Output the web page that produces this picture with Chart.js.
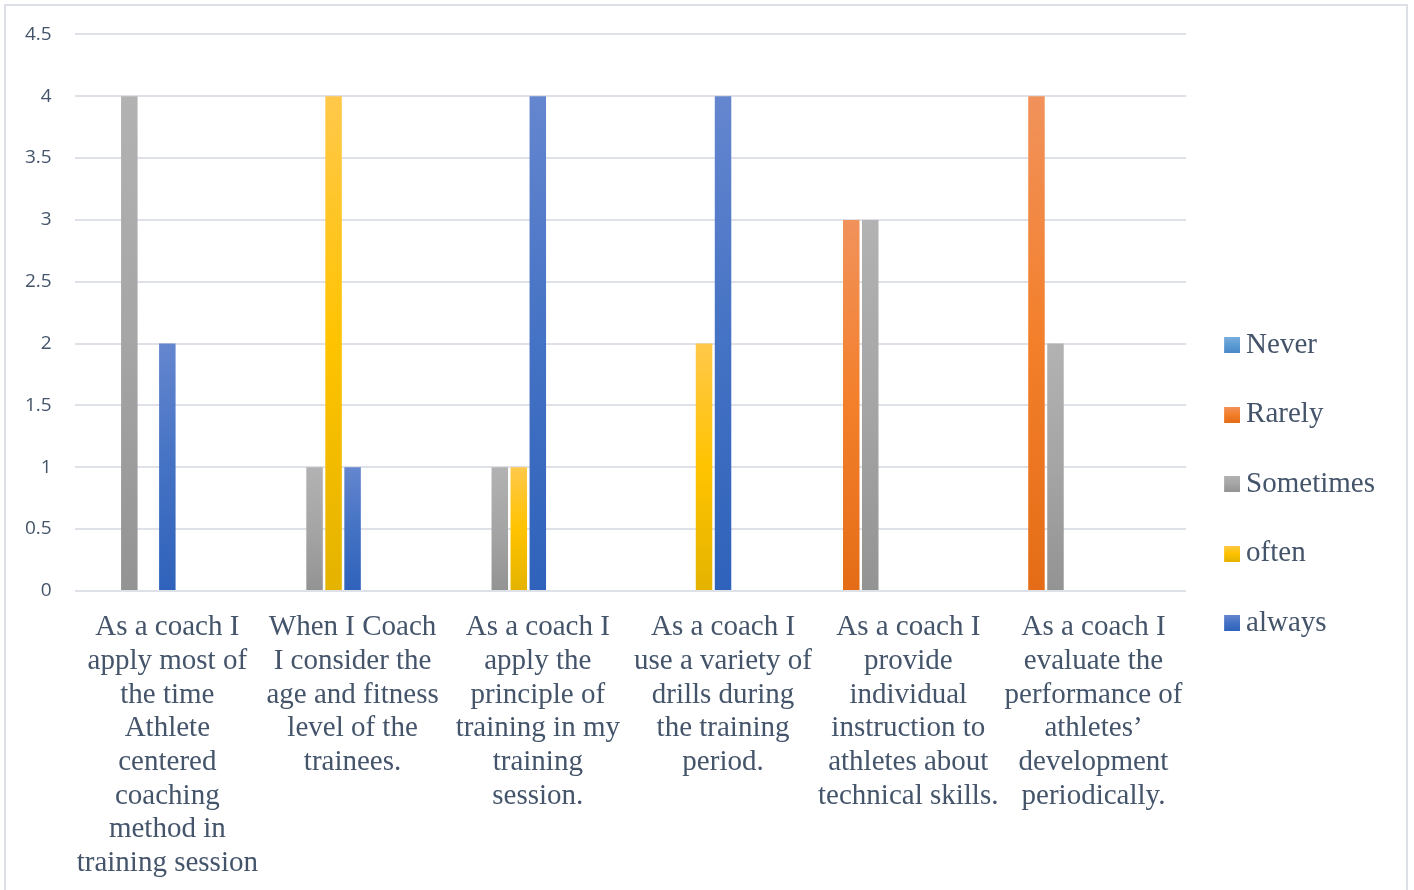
<!DOCTYPE html>
<html>
<head>
<meta charset="utf-8">
<script src="https://cdn.jsdelivr.net/npm/chart.js@4/dist/chart.umd.min.js"></script>
<style>
  html, body { margin: 0; padding: 0; background: #ffffff; }
  #frame { position: absolute; left: 4px; top: 4px; width: 1404px; height: 900px; border: 2px solid #DCDFE6; box-sizing: border-box; }
  #c { position: absolute; left: 0; top: 0; }
</style>
</head>
<body>
<div id="frame"></div>
<canvas id="c" width="1414" height="890"></canvas>
<script>
const categories = [
  ["As a coach I", "apply most of", "the time", "Athlete", "centered", "coaching", "method in", "training session"],
  ["When I Coach", "I consider the", "age and fitness", "level of the", "trainees."],
  ["As a coach I", "apply the", "principle of", "training in my", "training", "session."],
  ["As a coach I", "use a variety of", "drills during", "the training", "period."],
  ["As a coach I", "provide", "individual", "instruction to", "athletes about", "technical skills."],
  ["As a coach I", "evaluate the", "performance of", "athletes’", "development", "periodically."]
];
const seriesNames = ["Never", "Rarely", "Sometimes", "often", "always"];
const never     = [null, null, null, null, null, null];
const rarely    = [null, null, null, null, 3, 4];
const sometimes = [4, 1, 1, null, 3, 2];
const often     = [null, 4, 1, 2, null, null];
const always    = [2, 1, 4, 4, null, null];
const yTickValues = [0, 0.5, 1, 1.5, 2, 2.5, 3, 3.5, 4, 4.5];

const palette = [
  ["#7AAEDD", "#5B9BD5", "#4A89C6"],
  ["#F1925B", "#F37F2A", "#E46C17"],
  ["#B2B2B2", "#A5A5A5", "#939393"],
  ["#FFC84A", "#FFC300", "#E4B300"],
  ["#6586CF", "#4472C4", "#2F62BB"]
];

function gradFill(i) {
  return function (ctx) {
    const stops = palette[i];
    if (ctx.type !== 'data') return stops[1];
    const chart = ctx.chart;
    const y = chart.scales && chart.scales.y;
    const v = ctx.parsed ? ctx.parsed.y : null;
    if (!y || v == null || !chart.chartArea) return stops[1];
    const top = y.getPixelForValue(v);
    const bot = y.getPixelForValue(0);
    if (!isFinite(top) || !isFinite(bot) || top === bot) return stops[1];
    const g = chart.ctx.createLinearGradient(0, top, 0, bot);
    g.addColorStop(0, stops[0]);
    g.addColorStop(0.5, stops[1]);
    g.addColorStop(1, stops[2]);
    return g;
  };
}

// small legend swatch images (16x16 square inside a 22px-wide transparent image)
function swatch(i) {
  const cv = document.createElement('canvas');
  cv.width = 22; cv.height = 16;
  const c = cv.getContext('2d');
  const g = c.createLinearGradient(0, 0, 0, 16);
  g.addColorStop(0, palette[i][0]);
  g.addColorStop(0.5, palette[i][1]);
  g.addColorStop(1, palette[i][2]);
  c.fillStyle = g;
  c.fillRect(6, 0, 16, 16);
  return cv;
}

const seriesData = [never, rarely, sometimes, often, always];
const datasets = seriesData.map((d, i) => ({
  label: seriesNames[i],
  data: d,
  backgroundColor: gradFill(i),
  borderWidth: 0
}));
// Excel layout reserves four additional empty series slots after "always"
for (let k = 0; k < 4; k++) {
  datasets.push({ label: '', data: [null, null, null, null, null, null], backgroundColor: 'rgba(0,0,0,0)' });
}

const textColor = '#44546A';
const gridColor = '#DEE1E7';

new Chart(document.getElementById('c'), {
  type: 'bar',
  data: { labels: categories, datasets: datasets },
  options: {
    responsive: false,
    devicePixelRatio: 1,
    animation: false,
    layout: { padding: { top: 34, bottom: -10, left: 2, right: 29 } },
    datasets: { bar: { categoryPercentage: 0.9235, barPercentage: 0.868 } },
    plugins: {
      tooltip: { enabled: false },
      legend: {
        position: 'right',
        title: { display: true, text: ' ', font: { size: 34, lineHeight: 1 }, padding: 0 },
        labels: {
          filter: (item) => item.text !== '',
          generateLabels: (chart) => {
            const items = Chart.defaults.plugins.legend.labels.generateLabels(chart);
            items.forEach((it) => { if (it.datasetIndex < 5) it.pointStyle = swatch(it.datasetIndex); });
            return items;
          },
          usePointStyle: true,
          pointStyleWidth: 5,
          boxHeight: 16,
          padding: 40.5,
          color: textColor,
          font: { family: '"Liberation Serif", "Times New Roman", serif', size: 29 }
        }
      }
    },
    scales: {
      x: {
        grid: { display: false, drawTicks: false },
        border: { display: false },
        ticks: {
          maxRotation: 0,
          minRotation: 0,
          autoSkip: false,
          padding: 20,
          color: textColor,
          font: { family: '"Liberation Serif", "Times New Roman", serif', size: 29, lineHeight: 1.16 }
        }
      },
      y: {
        min: 0,
        max: 4.5,
        afterBuildTicks: (scale) => { scale.ticks = yTickValues.map(v => ({ value: v })); },
        grid: { color: gridColor, lineWidth: 2, drawTicks: false },
        border: { display: false },
        ticks: {
          padding: 23,
          color: textColor,
          callback: (v) => String(v),
          font: { family: '"Open Sans", sans-serif', size: 19 }
        }
      }
    }
  }
});
</script>
</body>
</html>
